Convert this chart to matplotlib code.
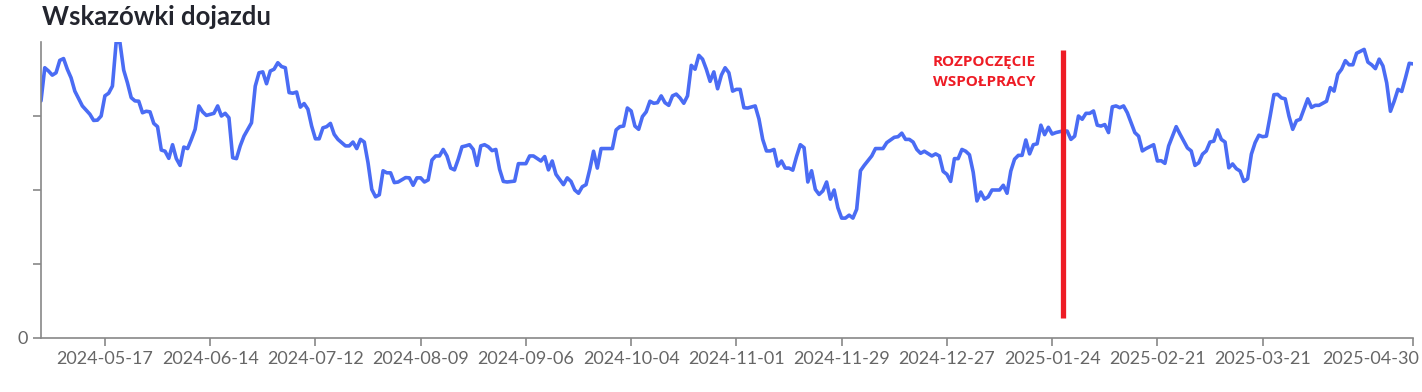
import matplotlib
matplotlib.use("Agg")
import matplotlib.pyplot as plt
import matplotlib.dates as mdates
import matplotlib.transforms as mtransforms
import pandas as pd

# ---- data ----
start_date = "2024-04-30"
end_date = "2025-04-30"
day_offsets = [
    0, 1, 2, 3, 4, 5, 6, 7, 8, 9, 11, 12, 13, 14, 15, 16, 17, 18, 19, 20,
    21, 22, 23, 24, 25, 26, 27, 28, 29, 30, 31, 32, 33, 34, 35, 36, 37, 38, 39, 40,
    41, 42, 43, 44, 46, 47, 48, 49, 50, 51, 52, 53, 54, 56, 57, 58, 59, 60, 61, 62,
    63, 64, 65, 66, 67, 68, 69, 70, 71, 72, 73, 74, 75, 76, 77, 78, 79, 81, 82, 83,
    84, 85, 86, 87, 88, 89, 90, 91, 92, 93, 94, 95, 97, 98, 99, 100, 101, 102, 103, 104,
    105, 106, 107, 108, 109, 110, 111, 112, 113, 114, 115, 116, 117, 118, 119, 120, 121, 122, 123, 124,
    126, 127, 129, 130, 131, 133, 134, 135, 136, 137, 139, 140, 141, 142, 143, 144, 145, 146, 147, 148,
    149, 150, 152, 153, 154, 155, 156, 157, 158, 159, 160, 161, 162, 163, 164, 165, 166, 167, 168, 169,
    170, 171, 172, 173, 174, 175, 176, 177, 178, 179, 180, 181, 182, 183, 184, 185, 186, 187, 188, 190,
    191, 192, 193, 194, 195, 196, 197, 198, 199, 200, 201, 202, 203, 204, 205, 206, 207, 208, 209, 210,
    211, 212, 213, 214, 215, 216, 217, 218, 219, 220, 221, 222, 223, 224, 225, 227, 228, 229, 230, 231,
    232, 233, 234, 235, 236, 237, 238, 239, 240, 241, 242, 243, 244, 245, 246, 247, 248, 249, 250, 251,
    252, 253, 254, 255, 256, 257, 258, 259, 260, 261, 262, 263, 264, 265, 266, 267, 268, 269, 270, 271,
    272, 273, 274, 275, 276, 277, 278, 279, 280, 281, 282, 283, 284, 285, 286, 287, 288, 289, 291, 292,
    293, 294, 296, 297, 298, 299, 300, 302, 303, 305, 306, 307, 308, 309, 310, 311, 312, 313, 314, 315,
    316, 317, 318, 319, 320, 321, 322, 323, 324, 325, 326, 327, 328, 329, 330, 331, 332, 333, 334, 335,
    336, 337, 338, 339, 340, 342, 343, 344, 345, 346, 347, 348, 349, 350, 352, 353, 354, 355, 356, 357,
    358, 359, 360, 361, 362, 363, 364, 365,
]
values = [
    80.1, 91.3, 90.2, 88.8, 89.6, 93.8, 94.4, 90.8, 87.9, 83.4, 78.4, 77.0, 75.6, 73.5, 73.6, 75.0, 81.8, 82.7, 85.1, 100.0,
    99.8, 90.5, 86.2, 81.2, 80.1, 80.0, 76.1, 76.6, 76.4, 72.5, 71.4, 63.5, 63.1, 60.7, 65.3, 60.6, 58.3, 64.5, 64.0, 67.1,
    70.5, 78.4, 76.4, 75.2, 75.9, 78.4, 75.0, 75.9, 74.4, 60.9, 60.6, 64.9, 68.2, 72.7, 85.1, 89.6, 89.9, 85.9, 90.2, 90.8,
    93.0, 91.7, 91.3, 82.9, 82.7, 83.1, 78.0, 79.2, 77.3, 71.6, 67.3, 67.3, 71.0, 71.4, 72.5, 68.8, 67.1, 64.9, 64.9, 66.2,
    64.0, 67.1, 66.2, 59.2, 50.2, 47.7, 48.4, 56.5, 55.8, 55.8, 52.5, 52.7, 54.2, 54.1, 51.6, 54.1, 54.1, 52.7, 53.4, 60.1,
    61.5, 61.5, 63.7, 61.5, 57.4, 56.8, 60.4, 64.6, 64.9, 65.3, 63.7, 58.3, 64.9, 65.3, 64.6, 63.3, 63.7, 57.0, 52.9, 52.7,
    53.0, 58.9, 58.9, 61.5, 61.5, 59.8, 61.3, 56.8, 59.8, 55.3, 51.8, 54.1, 52.9, 50.0, 48.9, 51.1, 51.8, 57.0, 63.1, 57.4,
    64.0, 64.0, 64.0, 70.3, 71.4, 71.6, 77.7, 76.7, 71.6, 70.5, 74.8, 76.4, 80.0, 79.3, 79.5, 81.8, 79.5, 78.6, 81.8, 82.4,
    81.1, 79.3, 81.8, 92.1, 90.8, 95.5, 94.2, 90.8, 86.7, 89.9, 84.2, 88.8, 91.3, 89.6, 83.4, 84.0, 84.0, 77.8, 77.7, 78.4,
    74.0, 67.1, 63.2, 63.2, 63.7, 58.1, 59.8, 57.4, 57.4, 56.7, 61.3, 65.3, 64.3, 52.7, 56.5, 50.2, 48.5, 49.7, 52.7, 46.9,
    50.0, 44.0, 40.5, 40.5, 41.5, 40.5, 43.5, 56.5, 58.3, 59.9, 61.5, 64.0, 64.0, 64.0, 66.0, 67.8, 68.0, 69.2, 67.1, 67.1,
    66.2, 63.7, 62.4, 63.1, 62.3, 61.5, 62.2, 61.5, 56.3, 55.3, 52.9, 60.6, 60.6, 63.7, 63.1, 61.9, 56.0, 46.3, 49.3, 46.9,
    47.7, 50.0, 50.0, 50.0, 51.6, 48.9, 56.4, 60.4, 61.7, 61.7, 66.9, 62.2, 65.3, 65.6, 71.9, 68.7, 71.2, 68.9, 69.4, 69.7,
    70.0, 69.9, 67.1, 68.2, 75.0, 73.9, 75.9, 75.9, 76.7, 71.9, 71.6, 72.1, 69.4, 78.1, 78.4, 77.8, 78.4, 76.1, 69.4, 68.2,
    63.2, 64.0, 65.3, 59.8, 59.9, 59.0, 64.9, 71.4, 68.9, 64.2, 63.2, 58.3, 59.2, 62.1, 63.2, 66.2, 66.5, 70.3, 67.1, 66.2,
    57.5, 58.8, 57.2, 56.4, 52.9, 53.8, 62.1, 66.0, 68.5, 68.0, 68.2, 75.0, 82.2, 82.3, 81.1, 80.8, 75.0, 70.5, 73.4, 73.9,
    77.3, 80.8, 77.9, 78.6, 78.6, 80.0, 84.6, 83.4, 89.1, 90.8, 93.7, 92.3, 92.3, 96.2, 97.5, 93.2, 92.3, 91.0, 94.2, 91.9,
    86.2, 76.6, 80.0, 84.0, 83.3, 87.9, 92.8, 92.6,
]
x_tick_dates = ["2024-05-17", "2024-06-14", "2024-07-12", "2024-08-09", "2024-09-06",
                "2024-10-04", "2024-11-01", "2024-11-29", "2024-12-27", "2025-01-24",
                "2025-02-21", "2025-03-21", "2025-04-30"]
y_ticks = [0, 25, 50, 75]
y_tick_labels = ["0", "", "", ""]
title = "Wskazówki dojazdu"
marker_date = "2025-01-27"
marker_range = [6.8, 97.3]
marker_text = "ROZPOCZĘCIE\nWSPOŁPRACY"
marker_text_date = "2025-01-06"
marker_text_y = 89.9

# ---- figure ----
plt.rcParams['font.family'] = ['Lato', 'DejaVu Sans']
fig = plt.figure(figsize=(14.22, 3.92), dpi=100)
ax = fig.add_axes([41 / 1422, 1 - 338 / 392, (1413 - 41) / 1422, (338 - 42) / 392])

dates = pd.Timestamp(start_date) + pd.to_timedelta(day_offsets, unit="D")
ax.plot(dates, values, color="#4a6cf4", linewidth=2.6, solid_joinstyle="round",
        solid_capstyle="round")

ax.set_xlim(pd.Timestamp(start_date), pd.Timestamp(end_date))
ax.set_ylim(0, 100)

ax.vlines(pd.Timestamp(marker_date), marker_range[0], marker_range[1],
          color="#ee1c25", linewidth=3.8)
ax.text(pd.Timestamp(marker_text_date), marker_text_y, marker_text,
        color="#ee1c25", fontsize=11, fontweight="bold", ha="center", va="center",
        linespacing=1.6, family=["Open Sans", "DejaVu Sans"])

ax.set_xticks([pd.Timestamp(d) for d in x_tick_dates])
ax.xaxis.set_major_formatter(mdates.DateFormatter("%Y-%m-%d"))
ax.set_yticks(y_ticks)
ax.set_yticklabels(y_tick_labels)

for side in ["top", "right"]:
    ax.spines[side].set_visible(False)
for side in ["left", "bottom"]:
    ax.spines[side].set_color("#888888")
    ax.spines[side].set_linewidth(1.2)
ax.tick_params(axis="both", colors="#888888", length=6, width=1.2,
               labelcolor="#666666", labelsize=13)
ax.tick_params(axis="x", pad=3)

# keep the last date label inside the figure (right-aligned like the reference)
fig.canvas.draw()
last_label = ax.get_xticklabels()[-1]
last_label.set_horizontalalignment("right")
last_label.set_transform(last_label.get_transform() +
                         mtransforms.ScaledTranslation(6 / 100, 0, fig.dpi_scale_trans))

fig.text(42 / 1422, 1 - 17 / 392, title, fontsize=18.5, fontweight="bold",
         color="#23252e", ha="left", va="center")

fig.savefig("out.png", dpi=100)
